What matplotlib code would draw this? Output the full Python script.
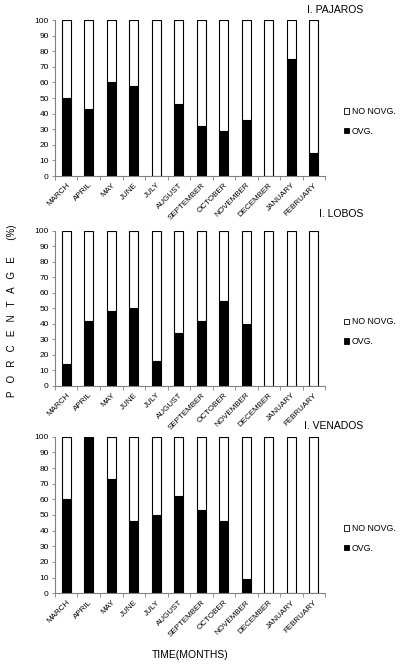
import matplotlib.pyplot as plt
from matplotlib.patches import Patch

plt.rcParams['font.family'] = ['Liberation Sans', 'DejaVu Sans']

months = ["MARCH", "APRIL", "MAY", "JUNE", "JULY", "AUGUST", "SEPTEMBER",
          "OCTOBER", "NOVEMBER", "DECEMBER", "JANUARY", "FEBRUARY"]

# % of ovigerous females per month at each island
ovg_pajaros = [50, 43, 60, 58, 0, 46, 32, 29, 36, 0, 75, 15]
ovg_lobos = [14, 42, 48, 50, 16, 34, 42, 55, 40, 0, 0, 0]
ovg_venados = [60, 100, 73, 46, 50, 62, 53, 46, 9, 0, 0, 0]

islands = ["I. PAJAROS", "I. LOBOS", "I. VENADOS"]
panels = [ovg_pajaros, ovg_lobos, ovg_venados]

fig = plt.figure(figsize=(4.08, 6.67), dpi=100)

# axes boxes in figure fractions (left, bottom, width, height)
boxes = [(0.1348, 0.7361, 0.6618, 0.2339),
         (0.1348, 0.4213, 0.6618, 0.2327),
         (0.1348, 0.1105, 0.6618, 0.2348)]
title_y = [0.985, 0.679, 0.361]

x = list(range(len(months)))
for ovg, name, box, ty in zip(panels, islands, boxes, title_y):
    ax = fig.add_axes(box)
    non = [100 - v for v in ovg]
    ax.bar(x, ovg, width=0.41, color="black", edgecolor="black", linewidth=0.8)
    ax.bar(x, non, width=0.41, bottom=ovg, color="white", edgecolor="black",
           linewidth=0.8)
    ax.set_xlim(-0.5, len(months) - 0.5)
    ax.set_ylim(0, 100)
    ax.set_yticks(range(0, 101, 10))
    ax.tick_params(axis='y', labelsize=6, length=2.5, width=0.6, pad=2,
                   color="#808080")
    # excel-style ticks between categories
    ax.set_xticks([i - 0.5 for i in range(len(months) + 1)], minor=False)
    ax.set_xticklabels([])
    ax.set_xticks(x, minor=True)
    ax.set_xticklabels(months, minor=True, rotation=45, ha='right',
                       rotation_mode='anchor', fontsize=5.8)
    ax.tick_params(axis='x', which='major', direction='out', length=3,
                   width=0.6, color="#808080")
    ax.tick_params(axis='x', which='minor', length=0, pad=4)
    for s in ["top", "right"]:
        ax.spines[s].set_visible(False)
    for s in ["left", "bottom"]:
        ax.spines[s].set_color("#808080")
        ax.spines[s].set_linewidth(0.8)
    handles = [Patch(facecolor="white", edgecolor="black", linewidth=0.6),
               Patch(facecolor="black", edgecolor="black", linewidth=0.6)]
    ax.legend(handles, ["NO NOVG.", "OVG."], loc='center left',
              bbox_to_anchor=(1.04, 0.35), frameon=False, fontsize=6.3,
              handlelength=0.6, handleheight=0.6, handletextpad=0.3,
              labelspacing=1.2)
    fig.text(0.89, ty, name, ha='right', va='center', fontsize=7.5)

fig.text(0.029, 0.534, "P   O   R   C   E   N   T   A   G   E      (%)",
         rotation=90, ha='center', va='center', fontsize=7)
fig.text(0.466, 0.018, "TIME(MONTHS)", ha='center', va='center', fontsize=7.5)

fig.savefig("out.png", dpi=100)
